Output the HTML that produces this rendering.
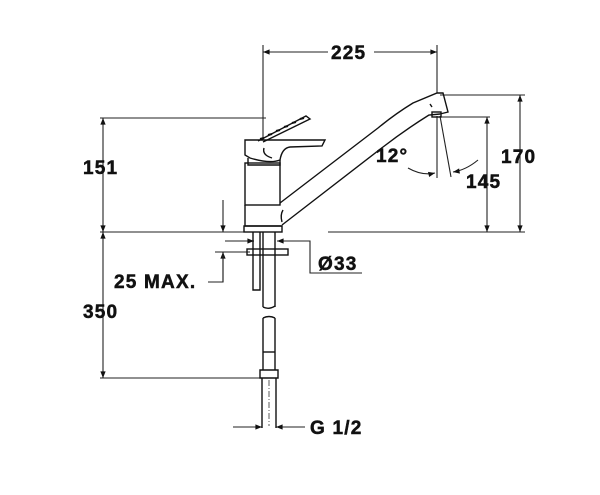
<!DOCTYPE html>
<html><head><style>html,body{margin:0;padding:0;background:#fff}svg{display:block}text{font-family:"Liberation Sans",Arial,sans-serif;font-weight:bold;font-size:19px;letter-spacing:1.2px;fill:#111;stroke:#111;stroke-width:0.5}</style></head>
<body>
<svg width="600" height="495" viewBox="0 0 600 495" xmlns="http://www.w3.org/2000/svg">
<defs><marker id="a" viewBox="0 0 10 10" refX="10" refY="5" markerWidth="9" markerHeight="6" orient="auto-start-reverse"><path d="M0,1L10,5L0,9z" fill="#111"/></marker></defs>
<g stroke="#222" stroke-width="1.1" fill="none">
<line x1="263" y1="45" x2="263" y2="140"/>
<line x1="437" y1="45" x2="437" y2="93"/>
<line x1="100" y1="118" x2="266" y2="118"/>
<line x1="440" y1="95" x2="525" y2="95"/>
<line x1="440" y1="117" x2="490" y2="117"/>
<line x1="100" y1="232" x2="245" y2="232"/>
<line x1="328" y1="232" x2="525" y2="232"/>
<line x1="100" y1="378" x2="262" y2="378"/>
<line x1="215" y1="252" x2="250" y2="252"/>
<line x1="263" y1="52" x2="437" y2="52" marker-start="url(#a)" marker-end="url(#a)"/>
<line x1="103" y1="118" x2="103" y2="232" marker-start="url(#a)" marker-end="url(#a)"/>
<line x1="520" y1="95" x2="520" y2="232" marker-start="url(#a)" marker-end="url(#a)"/>
<line x1="487" y1="117" x2="487" y2="232" marker-start="url(#a)" marker-end="url(#a)"/>
<line x1="103" y1="232" x2="103" y2="378" marker-start="url(#a)" marker-end="url(#a)"/>
<line x1="223" y1="200" x2="223" y2="232" marker-end="url(#a)"/>
<line x1="223" y1="282" x2="223" y2="252" marker-end="url(#a)"/>
<polyline points="208,282 223,282 223,252"/>
<line x1="225" y1="241" x2="254" y2="241" marker-end="url(#a)"/>
<line x1="310" y1="241" x2="277" y2="241" marker-end="url(#a)"/>
<polyline points="300,241 310,241 310,273 362,273"/>
<line x1="233" y1="427" x2="262" y2="427" marker-end="url(#a)"/>
<line x1="305" y1="427" x2="276" y2="427" marker-end="url(#a)"/>
<line x1="437" y1="116" x2="437" y2="178"/>
<line x1="440" y1="116" x2="451" y2="177"/>
<path d="M408,168 Q422,176 435,173" marker-end="url(#a)"/>
<path d="M478,160 Q466,170 453,172" marker-end="url(#a)"/>
</g>
<g stroke="#111" stroke-width="1.4" fill="none">
<path d="M258,141 L306,116 L310,119 L263,142"/>
<path d="M260,139 l4,-1 m4,-3 l4,-1 m4,-3 l4,-1 m4,-3 l4,-1 m4,-3 l4,-1 m4,-3 l4,-1" stroke-width="2"/>
<path d="M245,140 L325,140 L322,146 L290,147 Q282,148 280,160 Q270,164 250,158 L245,155 Z"/>
<path d="M264,148 Q262,155 272,158"/>
<path d="M248,158 L248,165 L280,165 L280,160"/>
<rect x="245" y="163" width="35" height="42"/>
<path d="M245,205 L245,226 L282,226"/>
<rect x="244" y="226" width="38" height="6"/>
<path d="M280,203 L378,128 Q395,114 413,103 L437,93 L443,93 L448,112 L440,114"/>
<path d="M282,225 L383,147 Q405,130 429,115 L440,114"/>
<path d="M283,210 Q280,215 282,222"/>
<rect x="432" y="112" width="9" height="5"/>
<line x1="430" y1="104" x2="432" y2="107"/>
<rect x="247" y="249" width="41" height="6"/>
<path d="M253,232 V290 H260 V232"/>
<path d="M263,232 V307 M275,232 V307 M263,307 q6,3 12,-1"/>
<path d="M263,318 q6,-3 12,0 M263,318 V370 M275,318 V370"/>
<line x1="263" y1="352" x2="275" y2="352"/>
<path d="M260,370 L278,370 L278,378 L260,378 Z"/>
<path d="M262,378 V428 M276,378 V428"/>
</g>
<line x1="269" y1="380" x2="269" y2="426" stroke="#333" stroke-width="0.8" stroke-dasharray="6,2,1,2"/>
<rect x="328" y="44" width="46" height="16" fill="#fff"/>
<text x="331" y="59">225</text>
<text x="83" y="174">151</text>
<text x="501" y="163">170</text>
<text x="466" y="188">145</text>
<text x="376" y="162">12°</text>
<text x="114" y="288">25 MAX.</text>
<text x="318" y="270">Ø33</text>
<text x="83" y="318">350</text>
<text x="310" y="434">G 1/2</text>
</svg>
</body></html>
